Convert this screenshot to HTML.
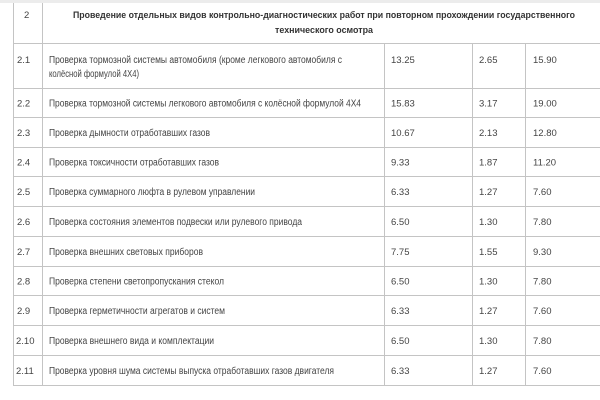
<!DOCTYPE html>
<html><head><meta charset="utf-8"><style>
html,body{margin:0;padding:0;background:#fff;width:600px;height:400px;overflow:hidden}
svg{display:block}
text{font-family:"Liberation Sans","DejaVu Sans",sans-serif;font-size:10px;fill:#444}
.n{font-size:9.5px}
.b{font-weight:bold;fill:#333;font-size:9.5px}
</style></head><body>
<svg width="600" height="400" viewBox="0 0 600 400" xmlns="http://www.w3.org/2000/svg">
<rect x="0" y="0" width="600" height="3" fill="#ececec"/>
<g stroke="#c4c4c4" stroke-width="1" shape-rendering="crispEdges">
<line x1="13.5" y1="3" x2="13.5" y2="385.5"/>
<line x1="42.5" y1="3" x2="42.5" y2="385.5"/>
<line x1="384.5" y1="43" x2="384.5" y2="385.5"/>
<line x1="472.5" y1="43" x2="472.5" y2="385.5"/>
<line x1="525.5" y1="43" x2="525.5" y2="385.5"/>
<line x1="13" y1="43.5" x2="600" y2="43.5"/>
<line x1="13" y1="88.5" x2="600" y2="88.5"/>
<line x1="13" y1="117.5" x2="600" y2="117.5"/>
<line x1="13" y1="147.5" x2="600" y2="147.5"/>
<line x1="13" y1="176.5" x2="600" y2="176.5"/>
<line x1="13" y1="206.5" x2="600" y2="206.5"/>
<line x1="13" y1="236.5" x2="600" y2="236.5"/>
<line x1="13" y1="266.5" x2="600" y2="266.5"/>
<line x1="13" y1="295.5" x2="600" y2="295.5"/>
<line x1="13" y1="325.5" x2="600" y2="325.5"/>
<line x1="13" y1="355.5" x2="600" y2="355.5"/>
<line x1="13" y1="385.5" x2="600" y2="385.5"/>
</g>
<!-- header -->
<text class="n" x="24" y="18">2</text>
<text class="b" x="73" y="18" textLength="502" lengthAdjust="spacingAndGlyphs">Проведение отдельных видов контрольно-диагностических работ при повторном прохождении государственного</text>
<text class="b" x="275" y="33" textLength="98" lengthAdjust="spacingAndGlyphs">технического осмотра</text>

<!-- 2.1 -->
<text class="n" x="17" y="63">2.1</text>
<text x="49" y="63" textLength="293" lengthAdjust="spacingAndGlyphs">Проверка тормозной системы автомобиля (кроме легкового автомобиля с</text>
<text x="49" y="77" textLength="90" lengthAdjust="spacingAndGlyphs">колёсной формулой 4Х4)</text>
<text class="n" x="391" y="63">13.25</text><text class="n" x="479" y="63">2.65</text><text class="n" x="533" y="63">15.90</text>

<!-- 2.2 -->
<text class="n" x="17" y="106.5">2.2</text>
<text x="49" y="106.5" textLength="312" lengthAdjust="spacingAndGlyphs">Проверка тормозной системы легкового автомобиля с колёсной формулой 4Х4</text>
<text class="n" x="391" y="106.5">15.83</text><text class="n" x="479" y="106.5">3.17</text><text class="n" x="533" y="106.5">19.00</text>

<!-- 2.3 -->
<text class="n" x="17" y="136">2.3</text>
<text x="49" y="136" textLength="161" lengthAdjust="spacingAndGlyphs">Проверка дымности отработавших газов</text>
<text class="n" x="391" y="136">10.67</text><text class="n" x="479" y="136">2.13</text><text class="n" x="533" y="136">12.80</text>

<!-- 2.4 -->
<text class="n" x="17" y="165.5">2.4</text>
<text x="49" y="165.5" textLength="170" lengthAdjust="spacingAndGlyphs">Проверка токсичности отработавших газов</text>
<text class="n" x="391" y="165.5">9.33</text><text class="n" x="479" y="165.5">1.87</text><text class="n" x="533" y="165.5">11.20</text>

<!-- 2.5 -->
<text class="n" x="17" y="195">2.5</text>
<text x="49" y="195" textLength="206" lengthAdjust="spacingAndGlyphs">Проверка суммарного люфта в рулевом управлении</text>
<text class="n" x="391" y="195">6.33</text><text class="n" x="479" y="195">1.27</text><text class="n" x="533" y="195">7.60</text>

<!-- 2.6 -->
<text class="n" x="17" y="225">2.6</text>
<text x="49" y="225" textLength="253" lengthAdjust="spacingAndGlyphs">Проверка состояния элементов подвески или рулевого привода</text>
<text class="n" x="391" y="225">6.50</text><text class="n" x="479" y="225">1.30</text><text class="n" x="533" y="225">7.80</text>

<!-- 2.7 -->
<text class="n" x="17" y="255">2.7</text>
<text x="49" y="255" textLength="154" lengthAdjust="spacingAndGlyphs">Проверка внешних световых приборов</text>
<text class="n" x="391" y="255">7.75</text><text class="n" x="479" y="255">1.55</text><text class="n" x="533" y="255">9.30</text>

<!-- 2.8 -->
<text class="n" x="17" y="284.5">2.8</text>
<text x="49" y="284.5" textLength="175" lengthAdjust="spacingAndGlyphs">Проверка степени светопропускания стекол</text>
<text class="n" x="391" y="284.5">6.50</text><text class="n" x="479" y="284.5">1.30</text><text class="n" x="533" y="284.5">7.80</text>

<!-- 2.9 -->
<text class="n" x="17" y="314">2.9</text>
<text x="49" y="314" textLength="176" lengthAdjust="spacingAndGlyphs">Проверка герметичности агрегатов и систем</text>
<text class="n" x="391" y="314">6.33</text><text class="n" x="479" y="314">1.27</text><text class="n" x="533" y="314">7.60</text>

<!-- 2.10 -->
<text class="n" x="16" y="344">2.10</text>
<text x="49" y="344" textLength="165" lengthAdjust="spacingAndGlyphs">Проверка внешнего вида и комплектации</text>
<text class="n" x="391" y="344">6.50</text><text class="n" x="479" y="344">1.30</text><text class="n" x="533" y="344">7.80</text>

<!-- 2.11 -->
<text class="n" x="16" y="374">2.11</text>
<text x="49" y="374" textLength="285" lengthAdjust="spacingAndGlyphs">Проверка уровня шума системы выпуска отработавших газов двигателя</text>
<text class="n" x="391" y="374">6.33</text><text class="n" x="479" y="374">1.27</text><text class="n" x="533" y="374">7.60</text>
</svg>
</body></html>
